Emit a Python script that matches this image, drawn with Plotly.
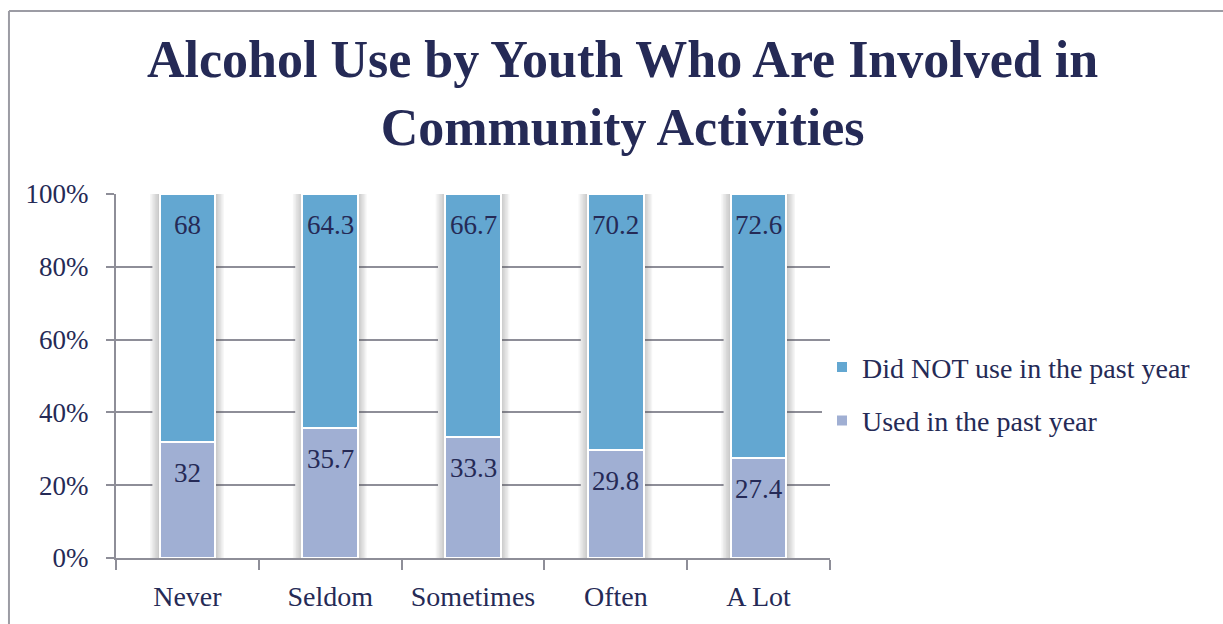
import plotly.graph_objects as go

categories = ["Never", "Seldom", "Sometimes", "Often", "A Lot"]
used = [32, 35.7, 33.3, 29.8, 27.4]
not_used = [68, 64.3, 66.7, 70.2, 72.6]
y_ticks = [0, 20, 40, 60, 80, 100]
y_tick_labels = ["0%", "20%", "40%", "60%", "80%", "100%"]

TEXT = "#252a56"
GRID = "#8e8e98"
FONT = "Liberation Serif"
BAR_W = 0.39

fig = go.Figure()

fig.add_trace(go.Bar(
    x=categories, y=used, name="Used in the past year",
    marker=dict(color="#a0afd3", line=dict(color="white", width=2)),
    width=BAR_W, legendrank=2, legendgroup="a",
))
fig.add_trace(go.Bar(
    x=categories, y=not_used, name="Did NOT use in the past year",
    marker=dict(color="#63a7d1", line=dict(color="white", width=2)),
    width=BAR_W, legendrank=1, legendgroup="b",
))

# value labels sit just under the top edge of each segment
annotations = []
for i, (u, n) in enumerate(zip(used, not_used)):
    for top, val in ((u, u), (u + n, n)):
        annotations.append(dict(
            x=i, y=top, xref="x", yref="y", text=f"{val:g}",
            showarrow=False, yanchor="middle", yshift=-31,
            font=dict(family=FONT, size=27, color=TEXT),
        ))

annotations.append(dict(
    x=0.7087, y=1.277, xref="paper", yref="paper", xanchor="center",
    yanchor="middle", showarrow=False,
    text="<b>Alcohol Use by Youth Who Are Involved in<br>Community Activities</b>",
    font=dict(family=FONT, size=52, color=TEXT),
))

# soft drop shadow beside each stacked column
shapes = []
for i, (u, n) in enumerate(zip(used, not_used)):
    top = u + n
    left, right = i - BAR_W / 2, i + BAR_W / 2
    shapes.append(dict(type="rect", xref="x", yref="y", layer="between",
                       x0=left - 0.05, x1=left, y0=0, y1=top,
                       fillcolor="white", line=dict(width=0)))
    for k in range(6):
        shapes.append(dict(type="rect", xref="x", yref="y", layer="between",
                           x0=left - 0.011 * (k + 1), x1=right + 0.01 * (k + 1),
                           y0=0, y1=top, fillcolor="rgba(90,90,90,0.06)",
                           line=dict(width=0)))

# outer frame of the chart area
shapes.append(dict(type="line", xref="paper", yref="paper",
                   x0=-0.1499, x1=-0.1499, y0=-0.2, y1=1.5027,
                   line=dict(color="#9c9ca4", width=2)))
shapes.append(dict(type="line", xref="paper", yref="paper",
                   x0=-0.1499, x1=1.6, y0=1.5027, y1=1.5027,
                   line=dict(color="#9c9ca4", width=2)))

fig.update_layout(
    barmode="stack",
    width=1223, height=624,
    margin=dict(l=116, r=393, t=194, b=64),
    paper_bgcolor="white", plot_bgcolor="white",
    font=dict(family=FONT, color=TEXT, size=27),
    annotations=annotations,
    shapes=shapes,
    legend=dict(
        x=0.9888, xanchor="left", y=0.451, yanchor="middle",
        traceorder="grouped", tracegroupgap=14,
        font=dict(family=FONT, size=28, color=TEXT),
        itemwidth=30,
    ),
    xaxis=dict(
        showline=True, linecolor=GRID, linewidth=2,
        ticks="outside", tickson="boundaries", ticklen=10,
        tickcolor=GRID, tickwidth=2, showgrid=False,
        ticklabelstandoff=12,
        tickfont=dict(family=FONT, size=28, color=TEXT),
    ),
    yaxis=dict(
        range=[0, 100], tickvals=y_ticks, ticktext=y_tick_labels,
        showline=True, linecolor=GRID, linewidth=2,
        ticks="outside", ticklen=8, tickcolor=GRID, tickwidth=2,
        showgrid=True, gridcolor=GRID, gridwidth=2,
        zeroline=False, ticklabelstandoff=12,
        tickfont=dict(family=FONT, size=27, color=TEXT),
    ),
)

fig.write_html("out.html")
